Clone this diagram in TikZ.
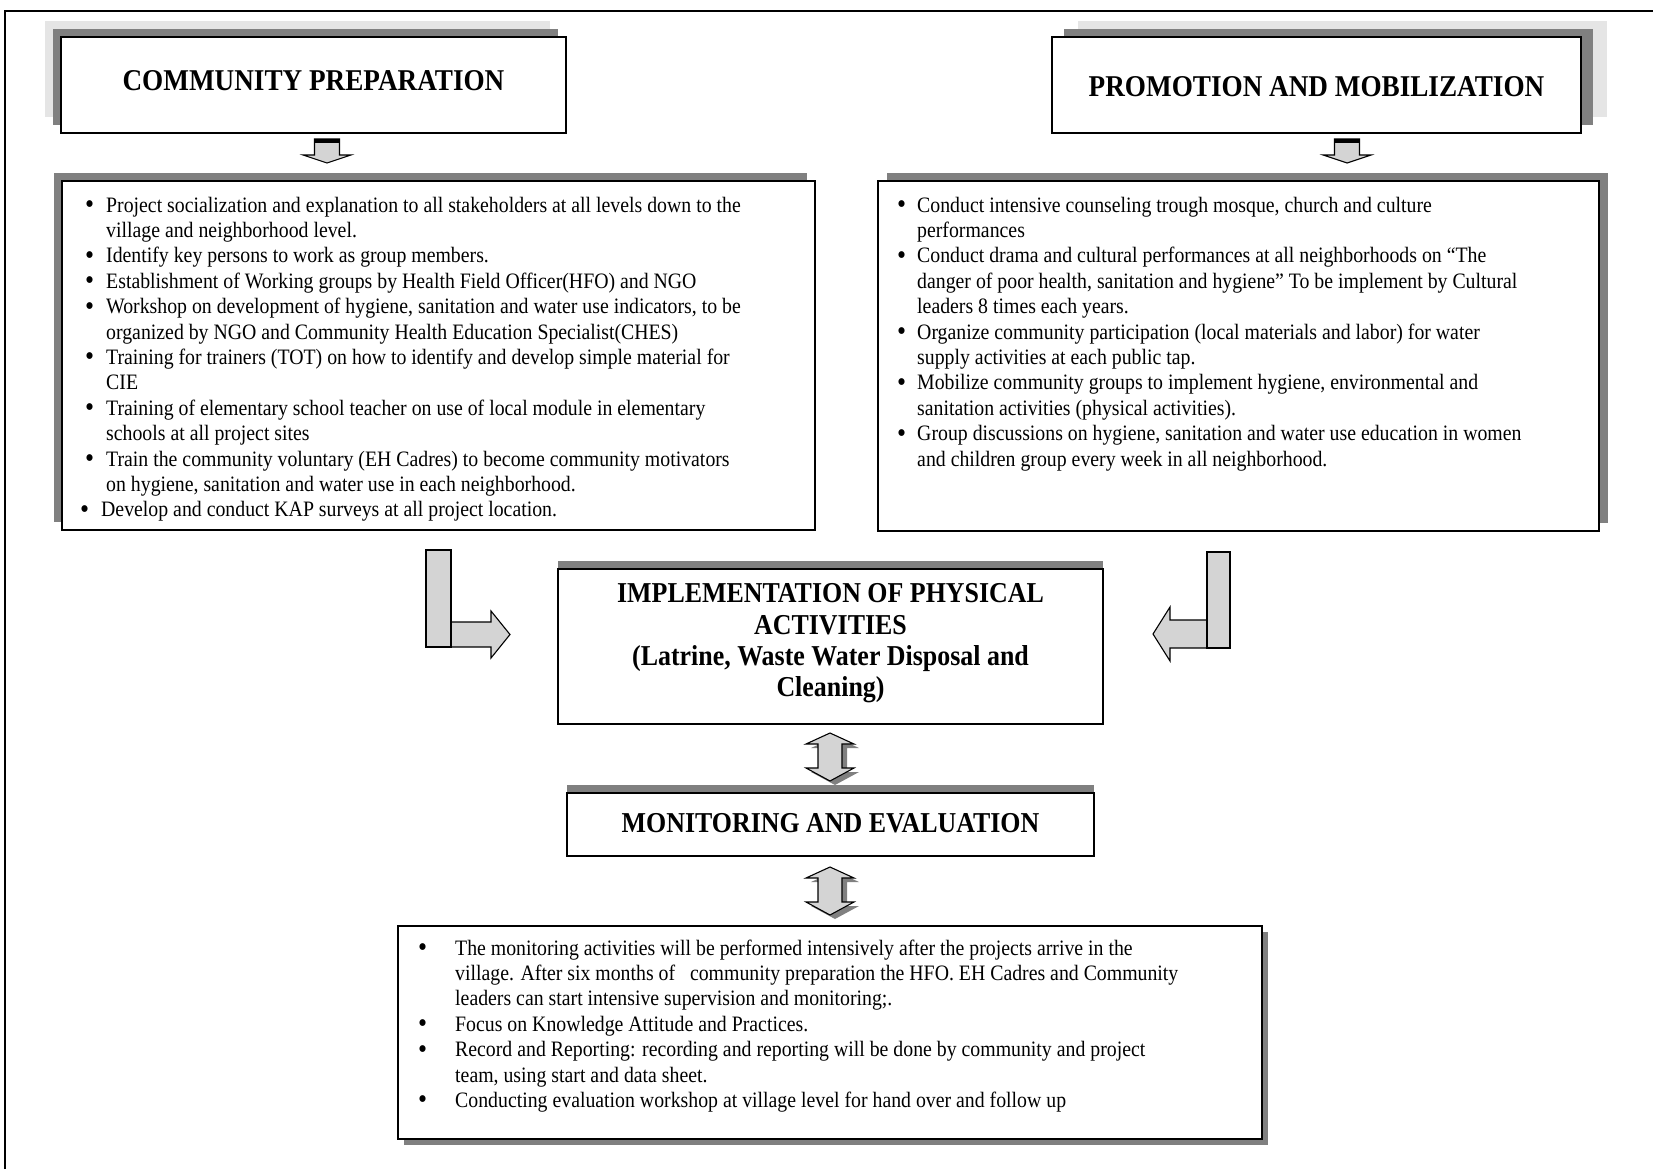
\documentclass[tikz,border=0pt]{standalone}
\usepackage{fontspec}
\usepackage{graphicx}
\setmainfont{Liberation Serif}
\newfontfamily\listfont{Liberation Serif}[FakeStretch=0.9]
\newfontfamily\headfont{Liberation Serif}[FakeStretch=0.9]
\usetikzlibrary{backgrounds,calc}

\definecolor{darkshade}{RGB}{128,128,128}
\definecolor{lightshade}{RGB}{229,229,229}
\definecolor{arrowfill}{RGB}{212,212,212}

% bullet set in a box of the given width
\newcommand\blt[1]{\makebox[#1][l]{\raisebox{-0.07em}{\scalebox{1.3}{\textbullet}}}}

\tikzset{
  panel/.style={draw=black, line width=1.5pt, fill=white, inner sep=0pt,
    outer sep=0pt, anchor=north west},
  headtext/.style={inner sep=0pt, font=\headfont\bfseries\fontsize{30.2}{36}\selectfont},
  midtext/.style={inner sep=0pt, font=\headfont\bfseries\fontsize{28.8}{31.3}\selectfont, align=center},
  listtext/.style={inner sep=0pt, anchor=base west,
    font=\listfont\fontsize{22}{25.4}\selectfont},
  arrowline/.style={fill=arrowfill, draw=black, line width=1.1pt, line join=miter},
  pics/downhint/.style={code={
    \draw[arrowline] (-12.5,0) -- (12.5,0) -- (12.5,16) -- (24,16) -- (0,24)
      -- (-24,16) -- (-12.5,16) -- cycle;
    \fill[black] (-12.5,0) rectangle (12.5,4);
  }},
  pics/twoway/.style={code={
    \fill[darkshade, shift={(5,4)}] (0,0) -- (24,11) -- (12,11) -- (12,35) -- (24,35)
      -- (0,48) -- (-24,35) -- (-12,35) -- (-12,11) -- (-24,11) -- cycle;
    \draw[arrowline] (0,0) -- (24,11) -- (12,11) -- (12,35) -- (24,35)
      -- (0,48) -- (-24,35) -- (-12,35) -- (-12,11) -- (-24,11) -- cycle;
  }},
}

\begin{document}
\begin{tikzpicture}[x=1pt, y=-1pt]
\useasboundingbox (0,0) rectangle (1653,1169);

% open page frame
\draw[line width=1.5pt] (5,1169) -- (5,11) -- (1653,11);

% section headers
\node[panel, minimum width=505pt, minimum height=96pt] (cp) at (61,37) {};
\node[panel, minimum width=529pt, minimum height=96pt] (pm) at (1052,37) {};

% activity lists
\node[panel, minimum width=753pt, minimum height=349pt] (cpl) at (62,181) {};
\node[panel, minimum width=721pt, minimum height=350pt] (pml) at (878,181) {};

% central stages
\node[panel, minimum width=545pt, minimum height=155pt] (impl) at (558,569) {};
\node[panel, minimum width=527pt, minimum height=63pt] (mon) at (567,793) {};
\node[panel, minimum width=864pt, minimum height=213pt] (monl) at (398,926) {};

% box shadows
\begin{scope}[on background layer]
  \fill[lightshade] ([shift={(-16,-16)}]cp.south west) rectangle ([shift={(-16,-16)}]cp.north east);
  \fill[darkshade] ([shift={(-8,-8)}]cp.south west) rectangle ([shift={(-8,-8)}]cp.north east);
  \fill[lightshade] ([shift={(26,-16)}]pm.south west) rectangle ([shift={(26,-16)}]pm.north east);
  \fill[darkshade] ([shift={(12,-8)}]pm.south west) rectangle ([shift={(12,-8)}]pm.north east);
  \fill[darkshade] ([shift={(-8,-8)}]cpl.south west) rectangle ([shift={(-8,-8)}]cpl.north east);
  \fill[darkshade] ([shift={(9,-8)}]pml.south west) rectangle ([shift={(9,-8)}]pml.north east);
  \fill[darkshade] ([shift={(0,-8)}]impl.south west) rectangle ([shift={(0,-8)}]impl.north east);
  \fill[darkshade] ([shift={(0,-8)}]mon.south west) rectangle ([shift={(0,-8)}]mon.north east);
  \fill[darkshade] ([shift={(6,6)}]monl.south west) rectangle ([shift={(6,6)}]monl.north east);
\end{scope}

% titles
\node[headtext] (cptitle) at ($(cp.center)+(0,-4)$) {COMMUNITY PREPARATION};
\node[headtext] (pmtitle) at ($(pm.center)+(0,2)$) {PROMOTION AND MOBILIZATION};
\node[midtext] (impltext) at ($(impl.center)+(0,-3)$)
  {IMPLEMENTATION OF PHYSICAL\\ACTIVITIES\\(Latrine, Waste Water Disposal and\\Cleaning)};
\node[midtext] (montext) at ($(mon.center)+(0,-1)$) {MONITORING AND EVALUATION};

% community preparation activities
\node[listtext] (cptext) at (85,212) {%
\begin{tabular}[t]{@{}l@{}}
\blt{21pt}Project socialization and explanation to all stakeholders at all levels down to the\\
\hspace*{21pt}village and neighborhood level.\\
\blt{21pt}Identify key persons to work as group members.\\
\blt{21pt}Establishment of Working groups by Health Field Officer(HFO) and NGO\\
\blt{21pt}Workshop on development of hygiene, sanitation and water use indicators, to be\\
\hspace*{21pt}organized by NGO and Community Health Education Specialist(CHES)\\
\blt{21pt}Training for trainers (TOT) on how to identify and develop simple material for\\
\hspace*{21pt}CIE\\
\blt{21pt}Training of elementary school teacher on use of local module in elementary\\
\hspace*{21pt}schools at all project sites\\
\blt{21pt}Train the community voluntary (EH Cadres) to become community motivators\\
\hspace*{21pt}on hygiene, sanitation and water use in each neighborhood.\\
\hspace*{-5pt}\blt{21pt}Develop and conduct KAP surveys at all project location.
\end{tabular}};

% promotion and mobilization activities
\node[listtext] (pmtext) at (897,212) {%
\begin{tabular}[t]{@{}l@{}}
\blt{20pt}Conduct intensive counseling trough mosque, church and culture\\
\hspace*{20pt}performances\\
\blt{20pt}Conduct drama and cultural performances at all neighborhoods on “The\\
\hspace*{20pt}danger of poor health, sanitation and hygiene” To be implement by Cultural\\
\hspace*{20pt}leaders 8 times each years.\\
\blt{20pt}Organize community participation (local materials and labor) for water\\
\hspace*{20pt}supply activities at each public tap.\\
\blt{20pt}Mobilize community groups to implement hygiene, environmental and\\
\hspace*{20pt}sanitation activities (physical activities).\\
\blt{20pt}Group discussions on hygiene, sanitation and water use education in women\\
\hspace*{20pt}and children group every week in all neighborhood.
\end{tabular}};

% monitoring activities
\node[listtext] (monitems) at (418,955) {%
\begin{tabular}[t]{@{}l@{}}
\blt{37pt}The monitoring activities will be performed intensively after the projects arrive in the\\
\hspace*{37pt}village. After six months of \ \ community preparation the HFO. EH Cadres and Community\\
\hspace*{37pt}leaders can start intensive supervision and monitoring;.\\
\blt{37pt}Focus on Knowledge Attitude and Practices.\\
\blt{37pt}Record and Reporting: recording and reporting will be done by community and project\\
\hspace*{37pt}team, using start and data sheet.\\
\blt{37pt}Conducting evaluation workshop at village level for hand over and follow up
\end{tabular}};

% block arrows between stages
\pic at (327,139) {downhint};
\pic at (1347,139) {downhint};

\draw[arrowline] (451,622) -- (491,622) -- (491,611) -- (510,634.5) -- (491,658)
  -- (491,647) -- (451,647) -- cycle;
\draw[arrowline] (426,550) rectangle (451,647);

\draw[arrowline] (1207,620) -- (1170,620) -- (1170,607) -- (1153,634) -- (1170,661)
  -- (1170,648) -- (1207,648) -- cycle;
\draw[arrowline] (1207,552) rectangle (1230,648);

\pic at (830,733) {twoway};
\pic at (830,867) {twoway};
\end{tikzpicture}
\end{document}
